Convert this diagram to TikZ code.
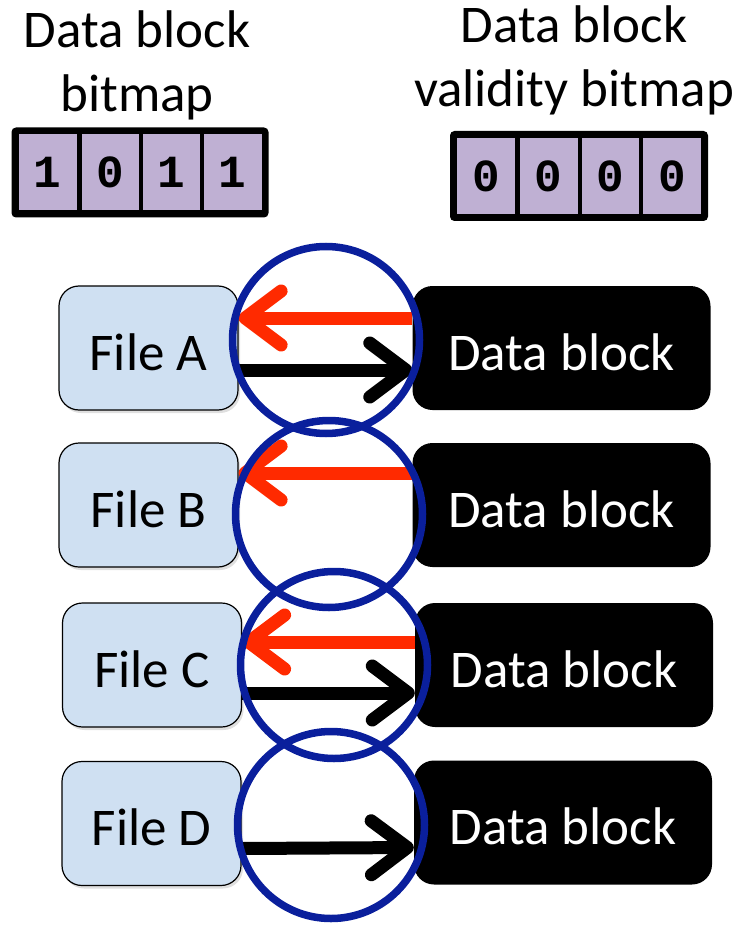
\documentclass[tikz,border=0pt]{standalone}
\usepackage{fontspec}
\setmainfont{Carlito}
\newfontfamily\bitfont{Liberation Mono}
\usetikzlibrary{arrows.meta,shadows}
\definecolor{filebg}{HTML}{CFE0F2}
\definecolor{bitbg}{HTML}{BFB0D3}
\definecolor{ringblue}{HTML}{0A1F9C}
\definecolor{arrowred}{HTML}{FF2A00}
\tikzset{
  titletext/.style={font=\fontsize{53}{60}\selectfont, inner sep=0pt, anchor=base},
  bitcell/.style={draw=black, line width=4pt, fill=bitbg, minimum width=62pt, minimum height=80pt, inner sep=0pt,
    font=\bitfont\bfseries\fontsize{46}{48}\selectfont},
  bitframe/.style={draw=black, line width=6pt, rounded corners=2pt},
  filebox/.style={draw=black, line width=1.2pt, fill=filebg, rounded corners=20pt, minimum width=179pt, minimum height=124pt,
    inner sep=0pt, font=\fontsize{53}{60}\selectfont, text height=44pt, text depth=0pt,
    drop shadow={opacity=0.25, shadow xshift=2pt, shadow yshift=-3pt}},
  databox/.style={fill=black, text=white, rounded corners=20pt, minimum width=298pt, minimum height=124pt,
    inner sep=0pt, font=\fontsize{53}{60}\selectfont, text height=44pt, text depth=0pt},
  ring/.style={circle, draw=ringblue, line width=7.5pt, minimum size=187pt, inner sep=0pt},
  redarrow/.style={draw=arrowred, line width=13pt, -{Straight Barb[length=36pt, width=54pt, round]}},
  blackarrow/.style={draw=black, line width=13pt, -{Straight Barb[length=36pt, width=54pt, round]}},
}
\begin{document}
\begin{tikzpicture}[x=1pt,y=-1pt]
\useasboundingbox (0,0) rectangle (751,925);

% titles
\node[titletext] (tl1) at (137,48) {Data block};
\node[titletext] (tl2) at (137,112) {bitmap};
\node[titletext] (tr1) at (574,43) {Data block};
\node[titletext] (tr2) at (574,107) {validity bitmap};

% left bitmap
\node[bitcell] (l1) at (47.5,172.5) {1};
\node[bitcell] (l2) at (110.5,172.5) {0};
\node[bitcell] (l3) at (171.5,172.5) {1};
\node[bitcell] (l4) at (232.5,172.5) {1};
\draw[bitframe] (l1.north west) rectangle (l4.south east);

% right bitmap
\node[bitcell] (r1) at (486,176) {0};
\node[bitcell] (r2) at (548.5,176) {0};
\node[bitcell] (r3) at (610.5,176) {0};
\node[bitcell] (r4) at (672,176) {0};
\draw[bitframe] (r1.north west) rectangle (r4.south east);

% files
\node[filebox] (fa) at (148.5,348) {File A};
\node[filebox] (fb) at (148.5,505) {File B};
\node[filebox] (fc) at (152,665) {File C};
\node[filebox] (fd) at (151.5,823.5) {File D};

% data blocks
\node[databox] (da) at (561.5,348) {Data block};
\node[databox] (db) at (561.5,505) {Data block};
\node[databox] (dc) at (564,665) {Data block};
\node[databox] (dd) at (563,822.5) {Data block};

% arrows
\draw[redarrow] ([yshift=30pt]da.west) -- ([yshift=30pt]fa.east);
\draw[blackarrow] ([yshift=-22pt]fa.east) -- ([yshift=-22pt]da.west);
\draw[redarrow] ([yshift=32pt]db.west) -- ([yshift=32pt]fb.east);
\draw[redarrow] ([yshift=23pt]dc.west) -- ([yshift=23pt]fc.east);
\draw[blackarrow] ([yshift=-28pt]fc.east) -- ([yshift=-28pt]dc.west);
\draw[blackarrow] ([yshift=-25pt]fd.east) -- ([yshift=-25pt]dd.west);

% rings
\node[ring] (ca) at (326,340) {};
\node[ring] (cb) at (329,514) {};
\node[ring] (cc) at (334,665) {};
\node[ring] (cd) at (331,825) {};
\end{tikzpicture}
\end{document}
